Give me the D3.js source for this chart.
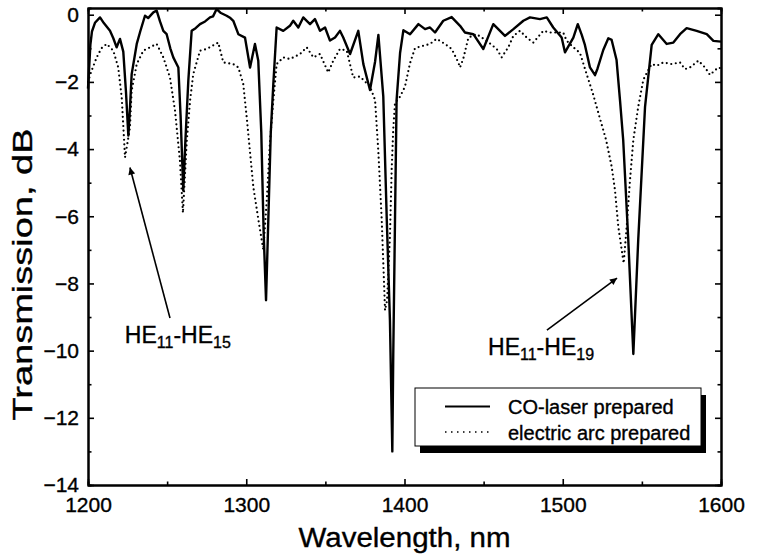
<!DOCTYPE html>
<html>
<head>
<meta charset="utf-8">
<script src="https://cdn.jsdelivr.net/npm/d3@7"></script>
<style>
  body { margin: 0; background: #fff; }
  text { font-family: "Liberation Sans", Arial, Helvetica, sans-serif; fill: #000; stroke: #000; stroke-width: 0.35px; }
</style>
</head>
<body>
<div id="chart"></div>
<script>
// CO-laser prepared grating (solid)
var lambdaCO = [1200, 1201.5, 1202.5, 1204.4, 1207.6, 1210, 1213.9, 1216, 1218.1, 1220.2, 1222.3, 1224, 1225.5, 1226.5, 1227.6,
  1230.8, 1233, 1236, 1238, 1241.3, 1243.4, 1245.5, 1247.6, 1249.7, 1252, 1253.9, 1257.1, 1258.5, 1260.2, 1261.5, 1263.4,
  1265.5, 1268, 1270.8, 1274, 1277.1, 1279, 1281.3, 1284, 1287.6, 1290, 1291.8, 1295, 1299.2, 1302.4, 1305.5, 1307.6,
  1309.5, 1311, 1312.5, 1314, 1315.5, 1317.1, 1319.2, 1323.4, 1327.6, 1329.7, 1332.9, 1336, 1340.3, 1343.4, 1346.6,
  1349.8, 1352.9, 1356.1, 1359.2, 1361.3, 1365.6, 1370.8, 1374, 1378.2, 1381.4, 1383.5, 1386.6, 1388.8, 1390.8, 1392.3,
  1392.9, 1394, 1395, 1397.2, 1399.3, 1403.5, 1408.8, 1413, 1416.1, 1419.3, 1424.5, 1429.8, 1435.1, 1438.2, 1443.5,
  1449.8, 1456.1, 1463.5, 1468.8, 1475.1, 1479.3, 1485.6, 1489.9, 1494, 1499.3, 1501.4, 1506.7, 1509.5, 1512, 1514,
  1517.2, 1520.4, 1522, 1525.6, 1528.8, 1530.9, 1534, 1536.2, 1538.2, 1541.4, 1544.6, 1547.7, 1552, 1556.2, 1560.4,
  1565.7, 1569.9, 1574.1, 1578.3, 1584.6, 1591, 1595.2, 1600];
var transCO = [-2.2, -0.9, -0.5, -0.24, -0.08, -0.25, -0.48, -0.7, -0.97, -0.72, -1.1, -2.3, -3.6, -2.8, -1.77,
  -0.87, -0.5, -0.03, -0.1, 0.07, 0.12, -0.2, -0.48, -0.58, -1.0, -1.27, -1.57, -3.0, -5.24, -3.8, -1.96,
  -0.48, -0.4, -0.28, -0.2, -0.08, -0.05, 0.17, 0.05, -0.03, -0.1, -0.18, -0.58, -0.68, -1.57, -0.87, -1.37,
  -3.5, -6.5, -8.5, -6.0, -3.5, -2.07, -0.38, -0.48, -0.33, -0.18, -0.38, -0.08, -0.28, -0.13, -0.48,
  -0.38, -0.77, -0.68, -0.48, -0.68, -1.17, -0.48, -1.47, -2.24, -1.4, -0.6, -2.44, -6.1, -9.1, -13.0,
  -10.1, -6.1, -2.54, -1.14, -0.46, -0.58, -0.28, -0.43, -0.38, -0.53, -0.18, -0.07, -0.33, -0.53, -0.58,
  -1.02, -0.28, -0.63, -0.43, -0.18, -0.08, -0.13, -0.08, -0.38, -0.68, -1.12, -0.68, -0.28, -0.6, -0.9,
  -1.57, -1.8, -1.6, -1.05, -0.7, -0.75, -1.35, -2.56, -3.73, -6.7, -10.1, -6.7, -2.74, -0.9, -0.58,
  -0.87, -0.83, -0.58, -0.4, -0.48, -0.58, -0.78, -0.8];

// electric arc prepared grating (dotted)
var lambdaArc = [1200, 1202, 1205.5, 1208.5, 1211.8, 1216, 1219.1, 1221.3, 1223.4, 1225, 1226.5, 1227.6, 1230.8, 1235,
  1241.3, 1243.4, 1247.6, 1251.8, 1255, 1258.1, 1260, 1262.4, 1264.5, 1266.5, 1270.8, 1275, 1282.3, 1285.5, 1291.8,
  1295, 1298.1, 1300.3, 1304.5, 1308, 1310.8, 1313, 1315, 1317.1, 1319.2, 1323.4, 1327.6, 1334, 1338.2, 1342.4,
  1346.6, 1351.8, 1355, 1359.2, 1363.5, 1367.6, 1371.9, 1378.2, 1381.4, 1383.5, 1385.6, 1387.7, 1389, 1390.8, 1391.9,
  1392.9, 1394, 1397.2, 1400.3, 1403.5, 1406.6, 1409.8, 1416.1, 1420.3, 1425.6, 1429.8, 1434, 1435.1, 1437.2, 1440.4,
  1445.6, 1452, 1458.3, 1461.4, 1465.6, 1468.8, 1473, 1477.2, 1481.4, 1487.7, 1491.9, 1500.3, 1502.4, 1506.7, 1510.9,
  1514.9, 1519, 1523.2, 1527.4, 1530.9, 1533, 1535.1, 1538.5, 1540.4, 1542.5, 1544.6, 1547.7, 1550.9, 1554, 1556.2,
  1559.4, 1563.6, 1568.8, 1574.1, 1577.2, 1580.4, 1585.7, 1589.9, 1593, 1598.3, 1600];
var transArc = [-2.0, -1.7, -1.27, -1.0, -0.87, -1.07, -1.57, -2.46, -4.25, -3.8, -3.36, -2.26, -1.47, -1.07,
  -0.92, -0.87, -1.27, -1.87, -2.86, -4.35, -5.9, -3.77, -2.56, -1.77, -1.07, -1.02, -0.83, -1.42, -1.47,
  -1.57, -2.06, -3.06, -5.14, -6.2, -7.0, -5.5, -3.8, -2.56, -1.47, -1.27, -1.32, -1.17, -0.97, -1.27,
  -1.17, -1.72, -1.37, -1.02, -1.07, -1.87, -1.84, -2.14, -2.54, -4.1, -6.1, -8.8, -8.5, -6.6, -4.6,
  -3.4, -2.63, -2.44, -2.14, -1.44, -1.0, -0.95, -0.87, -0.72, -0.87, -1.02, -1.42, -1.57, -1.3, -0.68,
  -0.58, -0.78, -1.02, -1.27, -0.97, -0.63, -0.48, -0.68, -0.83, -0.48, -0.53, -0.53, -0.77, -0.97, -1.14,
  -1.74, -2.34, -3.04, -3.73, -4.52, -5.22, -6.31, -7.4, -6.31, -4.92, -3.73, -2.74, -1.94, -1.65, -1.47,
  -1.52, -1.42, -1.47, -1.42, -1.62, -1.57, -1.37, -1.57, -1.79, -1.57, -1.6];

var xTicks = [1200, 1300, 1400, 1500, 1600];
var xMinor = [1250, 1350, 1450, 1550];
var yTicks = [0, -2, -4, -6, -8, -10, -12, -14];
var yMinor = [-1, -3, -5, -7, -9, -11, -13];

var seriesNames = ["CO-laser prepared", "electric arc prepared"];

// annotation: label position and arrow (start -> tip) in data units
var annotLabels = [["11", "15"], ["11", "19"]];
var annotText = [[1223.3, -9.77], [1452.8, -10.13]];
var annotArrow = [[[1251.8, -9.03], [1226.5, -4.55]], [[1490, -9.39], [1534.3, -7.84]]];

var margin = {top: 8, right: 45, bottom: 71, left: 88},
    width = 766 - margin.left - margin.right,
    height = 556 - margin.top - margin.bottom;

var svg = d3.select("#chart")
  .append("svg")
    .attr("width", 766)
    .attr("height", 556)
  .append("g")
    .attr("transform", "translate(" + margin.left + "," + margin.top + ")");

var x = d3.scaleLinear().domain([1200, 1600]).range([0, width]);
var y = d3.scaleLinear().domain([-14, 0.2]).range([height, 0]);

function styleAxis(g) {
  g.select(".domain").attr("stroke", "#000").attr("stroke-width", 2);
  g.selectAll(".tick line").attr("stroke", "#000").attr("stroke-width", 1.6);
  g.selectAll(".tick text").style("font-size", "21px");
}

// major ticks, inward
svg.append("g")
  .attr("transform", "translate(0," + height + ")")
  .call(d3.axisBottom(x).tickValues(xTicks).tickSize(-6).tickSizeOuter(0).tickPadding(12).tickFormat(d3.format("d")))
  .call(styleAxis);
svg.append("g")
  .call(d3.axisLeft(y).tickValues(yTicks).tickSize(-6).tickSizeOuter(0).tickPadding(9).tickFormat(d3.format("d")))
  .call(styleAxis);
svg.append("g")
  .call(d3.axisTop(x).tickValues(xTicks).tickSize(-6).tickSizeOuter(0).tickFormat(""))
  .call(styleAxis);
svg.append("g")
  .attr("transform", "translate(" + width + ",0)")
  .call(d3.axisRight(y).tickValues(yTicks).tickSize(-6).tickSizeOuter(0).tickFormat(""))
  .call(styleAxis);

// minor ticks
svg.append("g").attr("transform", "translate(0," + height + ")")
  .call(d3.axisBottom(x).tickValues(xMinor).tickSize(-3.5).tickFormat("")).call(styleAxis);
svg.append("g")
  .call(d3.axisTop(x).tickValues(xMinor).tickSize(-3.5).tickFormat("")).call(styleAxis);
svg.append("g")
  .call(d3.axisLeft(y).tickValues(yMinor).tickSize(-3.5).tickFormat("")).call(styleAxis);
svg.append("g").attr("transform", "translate(" + width + ",0)")
  .call(d3.axisRight(y).tickValues(yMinor).tickSize(-3.5).tickFormat("")).call(styleAxis);

var line = d3.line()
  .x(d => x(d[0]))
  .y(d => y(d[1]));

var dataCO = lambdaCO.map((l, i) => [l, transCO[i]]);
var dataArc = lambdaArc.map((l, i) => [l, transArc[i]]);

svg.append("path")
  .datum(dataArc)
  .attr("fill", "none")
  .attr("stroke", "#000")
  .attr("stroke-width", 2.2)
  .attr("stroke-linecap", "round")
  .attr("stroke-dasharray", "0,4.6")
  .attr("d", line);

svg.append("path")
  .datum(dataCO)
  .attr("fill", "none")
  .attr("stroke", "#000")
  .attr("stroke-width", 2.4)
  .attr("stroke-linejoin", "round")
  .attr("d", line);

// axis titles
svg.append("text")
  .attr("x", width / 2)
  .attr("y", height + 62)
  .attr("text-anchor", "middle")
  .attr("textLength", 212)
  .attr("lengthAdjust", "spacingAndGlyphs")
  .style("font-size", "27px")
  .text("Wavelength, nm");

svg.append("text")
  .attr("transform", "translate(" + (-56) + "," + (height / 2 + 28) + ") rotate(-90)")
  .attr("text-anchor", "middle")
  .attr("textLength", 292)
  .attr("lengthAdjust", "spacingAndGlyphs")
  .style("font-size", "28px")
  .text("Transmission, dB");

// annotations
svg.append("defs").append("marker")
  .attr("id", "arrow")
  .attr("viewBox", "0 0 10 10")
  .attr("refX", 10).attr("refY", 5)
  .attr("markerWidth", 10).attr("markerHeight", 7)
  .attr("markerUnits", "userSpaceOnUse")
  .attr("orient", "auto")
  .append("path").attr("d", "M0,0L10,5L0,10Z").attr("fill", "#000");

annotArrow.forEach(a => {
  svg.append("line")
    .attr("x1", x(a[0][0])).attr("y1", y(a[0][1]))
    .attr("x2", x(a[1][0])).attr("y2", y(a[1][1]))
    .attr("stroke", "#000")
    .attr("stroke-width", 1.6)
    .attr("marker-end", "url(#arrow)");
});

annotText.forEach((p, i) => {
  var t = svg.append("text")
    .attr("x", x(p[0]))
    .attr("y", y(p[1]))
    .style("font-size", "23px");
  t.append("tspan").text("HE");
  t.append("tspan").attr("dy", 5).style("font-size", "16px").text(annotLabels[i][0]);
  t.append("tspan").attr("dy", -5).text("-HE");
  t.append("tspan").attr("dy", 5).style("font-size", "16px").text(annotLabels[i][1]);
});

// legend
var lg = svg.append("g").attr("transform", "translate(" + (415 - margin.left) + "," + (388 - margin.top) + ")");
lg.append("rect").attr("x", 5).attr("y", 7).attr("width", 286).attr("height", 58).attr("fill", "#000");
lg.append("rect").attr("width", 286).attr("height", 58).attr("fill", "#fff").attr("stroke", "#000").attr("stroke-width", 1);
lg.append("line").attr("x1", 30).attr("x2", 75).attr("y1", 18.5).attr("y2", 18.5)
  .attr("stroke", "#000").attr("stroke-width", 2);
lg.append("line").attr("x1", 30).attr("x2", 75).attr("y1", 44).attr("y2", 44)
  .attr("stroke", "#000").attr("stroke-width", 1.6).attr("stroke-dasharray", "1.5,4.5");
lg.selectAll("text.leg")
  .data(seriesNames)
  .enter()
  .append("text")
    .attr("class", "leg")
    .attr("x", 93)
    .attr("y", (d, i) => 26 + i * 25.5)
    .style("font-size", "20px")
    .text(d => d);
</script>
</body>
</html>
